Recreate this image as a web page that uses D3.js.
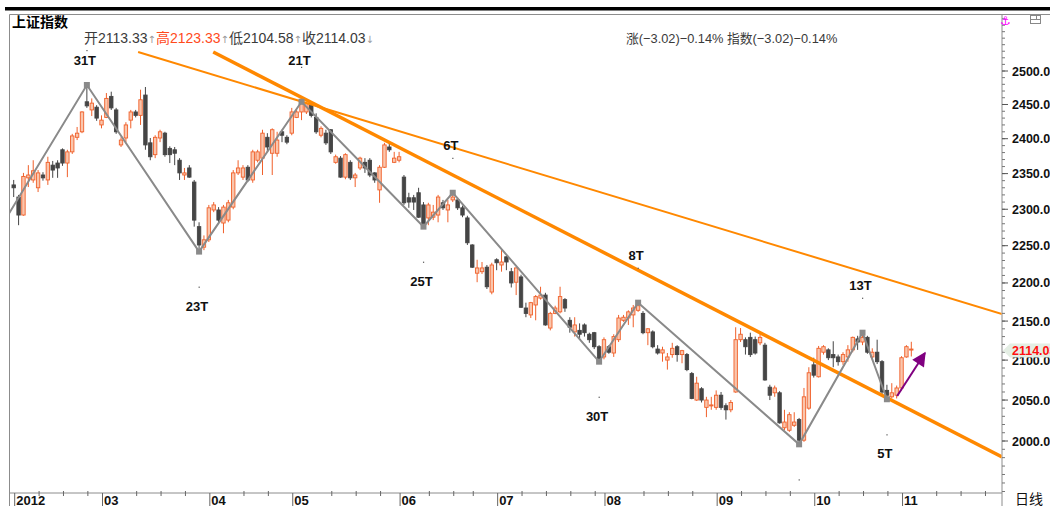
<!DOCTYPE html>
<html lang="zh">
<head>
<meta charset="utf-8">
<title>上证指数</title>
<script src="https://cdn.jsdelivr.net/npm/d3@7/dist/d3.min.js"></script>
<style>
  body { margin: 0; background: #fff; }
  svg { display: block; font-family: "Liberation Sans", Arial, "Noto Sans CJK SC", sans-serif; }
</style>
</head>
<body>
<svg id="grafico"></svg>
<script>
"use strict"

// um candle por pregão, de 2012-02-06 até 2012-11-05
const abertura = [
  2334, 2317, 2292, 2344, 2341, 2330, 2348, 2341, 2362, 2365,
  2384, 2365, 2381, 2402, 2410, 2454, 2442, 2446, 2420, 2431,
  2462, 2442, 2391, 2401, 2427, 2439, 2434, 2464, 2394, 2377,
  2401, 2408, 2386, 2384, 2369, 2348, 2358, 2338, 2276, 2248,
  2258, 2299, 2299, 2281, 2285, 2303, 2351, 2345, 2359, 2341,
  2369, 2372, 2402, 2379, 2379, 2410, 2402, 2408, 2431, 2439,
  2439, 2449, 2431, 2405, 2408, 2413, 2366, 2372, 2345, 2366,
  2344, 2358, 2366, 2369, 2351, 2327, 2359, 2388, 2366, 2369,
  2345, 2316, 2316, 2323, 2306, 2288, 2289, 2292, 2309, 2299,
  2313, 2313, 2302, 2288, 2251, 2213, 2215, 2221, 2188, 2231,
  2224, 2235, 2215, 2201, 2208, 2167, 2158, 2171, 2180, 2184,
  2141, 2160, 2162, 2178, 2151, 2136, 2138, 2145, 2133, 2135,
  2117, 2104, 2117, 2109, 2126, 2151, 2154, 2158, 2164, 2160,
  2135, 2136, 2114, 2109, 2100, 2107, 2117, 2107, 2107, 2083,
  2050, 2064, 2041, 2043, 2041, 2056, 2043, 2038, 2060, 2126,
  2126, 2129, 2126, 2122, 2119, 2066, 2059, 2059, 2016, 2013,
  2019, 2026, 2001, 2040, 2094, 2079, 2110, 2113, 2107, 2104,
  2098, 2104, 2113, 2127, 2123, 2129, 2104, 2110, 2098, 2062,
  2054, 2056, 2065, 2104, 2113.33
];
const maxima = [
  2341, 2320, 2351, 2362, 2369, 2355, 2352, 2374, 2368, 2369,
  2386, 2384, 2407, 2417, 2440, 2479, 2459, 2449, 2434, 2467,
  2469, 2445, 2402, 2424, 2442, 2442, 2472, 2476, 2401, 2405,
  2413, 2410, 2389, 2388, 2372, 2358, 2362, 2341, 2282, 2264,
  2306, 2310, 2303, 2306, 2313, 2355, 2369, 2362, 2362, 2384,
  2384, 2413, 2408, 2415, 2410, 2413, 2405, 2445, 2442, 2454,
  2452, 2451, 2437, 2418, 2413, 2414, 2377, 2375, 2379, 2369,
  2351, 2374, 2372, 2372, 2352, 2362, 2394, 2394, 2381, 2381,
  2348, 2323, 2320, 2330, 2310, 2309, 2306, 2320, 2313, 2313,
  2323, 2316, 2305, 2291, 2252, 2231, 2228, 2224, 2227, 2233,
  2244, 2236, 2220, 2221, 2211, 2174, 2175, 2184, 2195, 2187,
  2162, 2170, 2195, 2180, 2155, 2155, 2147, 2147, 2135, 2136,
  2119, 2129, 2119, 2133, 2158, 2158, 2164, 2171, 2174, 2163,
  2141, 2138, 2119, 2117, 2109, 2122, 2119, 2113, 2109, 2085,
  2079, 2066, 2054, 2054, 2062, 2060, 2046, 2050, 2142, 2141,
  2129, 2135, 2130, 2135, 2122, 2069, 2068, 2061, 2038, 2035,
  2035, 2028, 2065, 2091, 2103, 2118, 2119, 2115, 2124, 2107,
  2110, 2119, 2130, 2131, 2135, 2131, 2115, 2126, 2100, 2069,
  2071, 2068, 2105, 2119, 2123.33
];
const minima = [
  2317, 2278, 2291, 2331, 2337, 2324, 2340, 2334, 2344, 2344,
  2361, 2345, 2378, 2398, 2408, 2445, 2433, 2426, 2415, 2430,
  2442, 2407, 2388, 2395, 2415, 2431, 2420, 2384, 2369, 2372,
  2395, 2374, 2365, 2362, 2341, 2341, 2344, 2276, 2242, 2244,
  2255, 2296, 2282, 2267, 2282, 2300, 2348, 2341, 2338, 2337,
  2366, 2348, 2381, 2348, 2374, 2395, 2392, 2405, 2430, 2427,
  2436, 2431, 2407, 2402, 2391, 2378, 2364, 2344, 2342, 2341,
  2331, 2355, 2351, 2345, 2337, 2309, 2358, 2381, 2365, 2366,
  2306, 2302, 2299, 2288, 2276, 2278, 2285, 2282, 2299, 2282,
  2310, 2299, 2289, 2251, 2220, 2201, 2212, 2192, 2185, 2217,
  2215, 2217, 2194, 2184, 2167, 2155, 2154, 2151, 2178, 2144,
  2138, 2159, 2160, 2162, 2135, 2130, 2126, 2130, 2122, 2114,
  2098, 2101, 2108, 2104, 2123, 2149, 2145, 2142, 2162, 2133,
  2119, 2115, 2107, 2098, 2088, 2103, 2098, 2096, 2086, 2051,
  2049, 2047, 2029, 2038, 2038, 2038, 2026, 2035, 2059, 2123,
  2107, 2104, 2107, 2119, 2074, 2050, 2054, 2021, 2013, 2011,
  2017, 1996, 1999, 2038, 2078, 2078, 2107, 2100, 2091, 2093,
  2094, 2098, 2110, 2113, 2119, 2108, 2100, 2095, 2057, 2051,
  2052, 2052, 2062, 2103, 2104.58
];
const fechamento = [
  2330, 2292, 2346, 2348, 2354, 2351, 2344, 2366, 2355, 2358,
  2365, 2381, 2404, 2408, 2439, 2448, 2452, 2430, 2427, 2459,
  2445, 2410, 2398, 2420, 2439, 2434, 2457, 2391, 2374, 2402,
  2410, 2377, 2377, 2379, 2351, 2351, 2345, 2285, 2251, 2258,
  2302, 2306, 2285, 2303, 2309, 2351, 2358, 2358, 2341, 2381,
  2381, 2408, 2388, 2413, 2398, 2405, 2395, 2439, 2439, 2452,
  2451, 2434, 2410, 2415, 2394, 2381, 2374, 2345, 2377, 2344,
  2348, 2372, 2358, 2348, 2341, 2359, 2391, 2384, 2372, 2374,
  2309, 2310, 2310, 2289, 2278, 2306, 2296, 2317, 2302, 2306,
  2317, 2302, 2292, 2254, 2221, 2220, 2220, 2195, 2224, 2227,
  2228, 2228, 2200, 2220, 2168, 2160, 2174, 2182, 2184, 2145,
  2160, 2167, 2182, 2167, 2142, 2145, 2133, 2135, 2126, 2117,
  2100, 2126, 2110, 2130, 2154, 2155, 2162, 2167, 2170, 2135,
  2140, 2117, 2109, 2113, 2104, 2115, 2107, 2112, 2088, 2052,
  2071, 2050, 2050, 2044, 2056, 2041, 2038, 2047, 2126, 2133,
  2117, 2107, 2109, 2129, 2075, 2056, 2065, 2022, 2023, 2032,
  2023, 2001, 2054, 2084, 2081, 2115, 2117, 2103, 2103, 2098,
  2107, 2113, 2129, 2123, 2129, 2110, 2110, 2098, 2060, 2056,
  2059, 2065, 2103, 2117.05, 2114.03
];

const rotulosMes = ['2012', '03', '04', '05', '06', '07', '08', '09', '10', '11'];
const inicioMes = [0, 18, 40, 57, 79, 99, 121, 144, 164, 182];
const inicioSemana = [5, 10, 15, 25, 30, 35, 47, 52, 65, 70, 75, 85, 90, 94,
  104, 109, 114, 119, 129, 134, 139, 149, 154, 159, 169, 174, 179, 189, 194, 199];
const rotulosPreco = [2000, 2050, 2100, 2150, 2200, 2250, 2300, 2350, 2400, 2450, 2500];

// viradas do zigue-zague (índice do pregão); a primeira é a mínima de 2012-01-06, fora da tela
const inicioZigue = { i: -16, v: 2132.63 };
const viradas = [15, 38, 59, 84, 90, 120, 128, 161, 174, 179];
const tiposVirada = ['topo', 'fundo', 'topo', 'fundo', 'topo', 'fundo', 'topo', 'fundo', 'topo', 'fundo'];

// linhas de tendência e seta desenhadas à mão: [índice, valor]
const tendenciaFina = [[25.5, 2528.8], [202.6, 2159.2]];
const tendenciaGrossa = [[40.9, 2528.8], [202.6, 1980.8]];
const seta = [[181.1, 2055], [186.8, 2109]];

function iniciar(){
  const largura = 1050;
  const altura = 506;
  const area = { esquerda: 9.5, direita: 1002, superior: 14.5, inferior: 493 };

  const svg = d3.select('#grafico').attr('width', largura).attr('height', altura);

  const x = d3.scaleLinear().domain([0, 184]).range([13.7, 911.3]);
  const y = d3.scaleLog().domain([2000, 2500]).range([441, 71]);

  const corAlta = '#f0602a';
  const corBaixa = '#454545';
  const corZigue = '#8a8a8a';
  const corTendencia = '#ff8800';

  // moldura
  svg.append('rect').attr('x', 5).attr('y', 7).attr('width', largura - 5).attr('height', 3.5).attr('fill', '#000');
  svg.append('line').attr('x1', area.esquerda).attr('x2', largura).attr('y1', area.superior).attr('y2', area.superior)
     .attr('stroke', '#8c8c8c');
  svg.append('line').attr('x1', area.esquerda).attr('x2', area.esquerda).attr('y1', area.superior).attr('y2', altura)
     .attr('stroke', '#8c8c8c');
  svg.append('line').attr('x1', area.direita).attr('x2', area.direita).attr('y1', area.superior).attr('y2', altura)
     .attr('stroke', '#8c8c8c');
  svg.append('line').attr('x1', area.esquerda).attr('x2', area.direita).attr('y1', area.inferior).attr('y2', area.inferior)
     .attr('stroke', '#8c8c8c');

  svg.append('defs').append('clipPath').attr('id', 'recorte')
     .append('rect')
     .attr('x', area.esquerda + 0.5).attr('y', area.superior + 0.5)
     .attr('width', area.direita - area.esquerda - 1).attr('height', area.inferior - area.superior - 1);

  svg.select('defs').append('marker')
     .attr('id', 'ponta')
     .attr('viewBox', '0 0 10 10')
     .attr('refX', 9).attr('refY', 5)
     .attr('markerUnits', 'userSpaceOnUse')
     .attr('markerWidth', 15).attr('markerHeight', 14)
     .attr('orient', 'auto')
     .append('path').attr('d', 'M0,0 L10,5 L0,10 Z').attr('fill', '#800080');

  const plotagem = svg.append('g').attr('clip-path', 'url(#recorte)');

  // candles
  const velas = abertura.map((a, i) => ({ i, a, h: maxima[i], l: minima[i], f: fechamento[i] }));
  const sobe = d => d.f >= d.a;

  plotagem.selectAll('.pavio')
    .data(velas)
    .enter()
      .append('line')
      .classed('pavio', true)
      .attr('x1', d => x(d.i))
      .attr('x2', d => x(d.i))
      .attr('y1', d => y(d.h))
      .attr('y2', d => y(d.l))
      .attr('stroke', d => sobe(d) ? corAlta : corBaixa)
      .attr('stroke-width', 1);

  plotagem.selectAll('.corpo')
    .data(velas)
    .enter()
      .append('rect')
      .classed('corpo', true)
      .attr('x', d => x(d.i) - 1.7)
      .attr('y', d => y(Math.max(d.a, d.f)))
      .attr('width', 3.4)
      .attr('height', d => Math.max(1, Math.abs(y(d.a) - y(d.f))))
      .attr('fill', d => sobe(d) ? '#fac6ad' : corBaixa)
      .attr('stroke', d => sobe(d) ? corAlta : corBaixa)
      .attr('stroke-width', 0.9);

  // linhas de tendência
  const linha = d3.line().x(d => x(d[0])).y(d => y(d[1]));
  plotagem.append('path').attr('d', linha(tendenciaFina))
    .attr('fill', 'none').attr('stroke', corTendencia).attr('stroke-width', 2);
  plotagem.append('path').attr('d', linha(tendenciaGrossa))
    .attr('fill', 'none').attr('stroke', corTendencia).attr('stroke-width', 3.5);

  // zigue-zague
  const pontos = viradas.map((i, k) => ({
    i,
    v: tiposVirada[k] === 'topo' ? maxima[i] : minima[i],
    tipo: tiposVirada[k],
    dias: i - (k === 0 ? inicioZigue.i : viradas[k - 1])
  }));
  plotagem.append('path')
    .attr('d', linha([[inicioZigue.i, inicioZigue.v]].concat(pontos.map(p => [p.i, p.v]))))
    .attr('fill', 'none').attr('stroke', corZigue).attr('stroke-width', 2);

  plotagem.selectAll('.virada')
    .data(pontos)
    .enter()
      .append('rect')
      .classed('virada', true)
      .attr('x', d => x(d.i) - 3)
      .attr('y', d => y(d.v) - 3)
      .attr('width', 6)
      .attr('height', 6)
      .attr('fill', corZigue);

  plotagem.selectAll('.marca')
    .data(pontos)
    .enter()
      .append('rect')
      .classed('marca', true)
      .attr('x', d => x(d.i) - 0.5)
      .attr('y', d => d.tipo === 'topo' ? y(d.v) - 35 : y(d.v) + 35)
      .attr('width', 1.2)
      .attr('height', 1.2)
      .attr('fill', '#555');

  plotagem.selectAll('.rotulo')
    .data(pontos)
    .enter()
      .append('text')
      .classed('rotulo', true)
      .text(d => d.dias + 'T')
      .attr('x', d => x(d.i) - 2)
      .attr('y', d => d.tipo === 'topo' ? Math.max(y(d.v) - 48, 60) + 5 : y(d.v) + 54 + 5)
      .attr('text-anchor', 'middle')
      .attr('font-size', 13)
      .attr('font-weight', 'bold')
      .attr('fill', '#111');

  // seta
  plotagem.append('line')
    .attr('x1', x(seta[0][0])).attr('y1', y(seta[0][1]))
    .attr('x2', x(seta[1][0])).attr('y2', y(seta[1][1]))
    .attr('stroke', '#800080').attr('stroke-width', 2)
    .attr('marker-end', 'url(#ponta)');

  // eixo de preços
  const eixoY = svg.append('g');
  eixoY.selectAll('.menor')
    .data(d3.range(1940, 2590, 10))
    .enter()
      .append('line')
      .attr('x1', area.direita).attr('x2', area.direita + 3)
      .attr('y1', d => y(d)).attr('y2', d => y(d))
      .attr('stroke', '#777');
  eixoY.selectAll('.maior')
    .data(rotulosPreco)
    .enter()
      .append('line')
      .attr('x1', area.direita).attr('x2', area.direita + 6)
      .attr('y1', d => y(d)).attr('y2', d => y(d))
      .attr('stroke', '#555');
  eixoY.selectAll('.precoTexto')
    .data(rotulosPreco)
    .enter()
      .append('text')
      .text(d => d3.format('.2f')(d))
      .attr('x', area.direita + 10)
      .attr('y', d => y(d) + 4.5)
      .attr('font-size', 12.5)
      .attr('font-weight', 'bold')
      .attr('fill', '#111');

  // preço atual
  const ultimo = fechamento[fechamento.length - 1];
  const yUltimo = y(ultimo) + 1.5;
  eixoY.append('path')
    .attr('d', `M${area.direita + 1},${yUltimo} L${area.direita + 8},${yUltimo - 7} L${largura},${yUltimo - 7} L${largura},${yUltimo + 7} L${area.direita + 8},${yUltimo + 7} Z`)
    .attr('fill', '#e4eee4');
  eixoY.append('text')
    .text(d3.format('.2f')(ultimo))
    .attr('x', area.direita + 10)
    .attr('y', yUltimo + 4.5)
    .attr('font-size', 12.5)
    .attr('font-weight', 'bold')
    .attr('fill', '#ff1010');

  // eixo de datas
  const eixoX = svg.append('g');
  eixoX.selectAll('.semana')
    .data(inicioSemana)
    .enter()
      .append('line')
      .attr('x1', d => x(d) + 1).attr('x2', d => x(d) + 1)
      .attr('y1', area.inferior - 2).attr('y2', area.inferior + 3)
      .attr('stroke', '#666');
  eixoX.selectAll('.mes')
    .data(inicioMes)
    .enter()
      .append('line')
      .attr('x1', d => x(d) + 1).attr('x2', d => x(d) + 1)
      .attr('y1', area.inferior).attr('y2', altura)
      .attr('stroke', '#666');
  eixoX.selectAll('.mesTexto')
    .data(inicioMes)
    .enter()
      .append('text')
      .text((d, k) => rotulosMes[k])
      .attr('x', d => x(d) + 2.5)
      .attr('y', 504.5)
      .attr('font-size', 13)
      .attr('font-weight', 'bold')
      .attr('fill', '#111');
  svg.append('text').text('日线')
    .attr('x', 1015).attr('y', 504)
    .attr('font-size', 14).attr('fill', '#111');

  // cabeçalho
  svg.append('text').text('上证指数')
    .attr('x', 12).attr('y', 27)
    .attr('font-size', 14).attr('font-weight', 'bold').attr('fill', '#000');

  const anterior = fechamento[fechamento.length - 2];
  const fmt = d3.format('.2f');
  const cabecalho = svg.append('text').attr('x', 84).attr('y', 43).attr('font-size', 14).attr('fill', '#3a3a3a');
  const partes = [
    { t: '开' + fmt(abertura[abertura.length - 1]) },
    { t: '↑', seta: true },
    { t: '高' + fmt(maxima[maxima.length - 1]), cor: '#ff4a1c' },
    { t: '↑', seta: true },
    { t: '低' + fmt(minima[minima.length - 1]) },
    { t: '↑', seta: true },
    { t: '收' + fmt(ultimo) },
    { t: '↓', seta: true }
  ];
  partes.forEach(p => {
    cabecalho.append('tspan').text(p.t)
      .attr('fill', p.seta ? '#999' : (p.cor || '#3a3a3a'))
      .attr('font-family', p.seta ? 'DejaVu Sans' : null)
      .attr('font-size', p.seta ? 10 : 14);
  });

  const variacao = ultimo - anterior;
  const pct = variacao / anterior * 100;
  const textoVar = `(${fmt(variacao)})${fmt(pct)}%`;
  svg.append('text').text(`涨${textoVar} 指数${textoVar}`)
    .attr('x', 626).attr('y', 43)
    .attr('font-size', 12.8).attr('fill', '#3a3a3a');

  // ícones do canto
  svg.append('text').text('⚓')
    .attr('x', 1000).attr('y', 25)
    .attr('font-size', 12).attr('fill', '#ff00ff').attr('font-family', 'DejaVu Sans');
  svg.append('rect').attr('x', 1030.5).attr('y', 15.5).attr('width', 10).attr('height', 8)
    .attr('fill', 'none').attr('stroke', '#888');
  svg.append('line').attr('x1', 1030.5).attr('x2', 1040.5).attr('y1', 19.5).attr('y2', 19.5).attr('stroke', '#888');
  svg.append('line').attr('x1', 1036.5).attr('x2', 1036.5).attr('y1', 15.5).attr('y2', 19.5).attr('stroke', '#888');
}

window.addEventListener('load', iniciar, false);
</script>
</body>
</html>
